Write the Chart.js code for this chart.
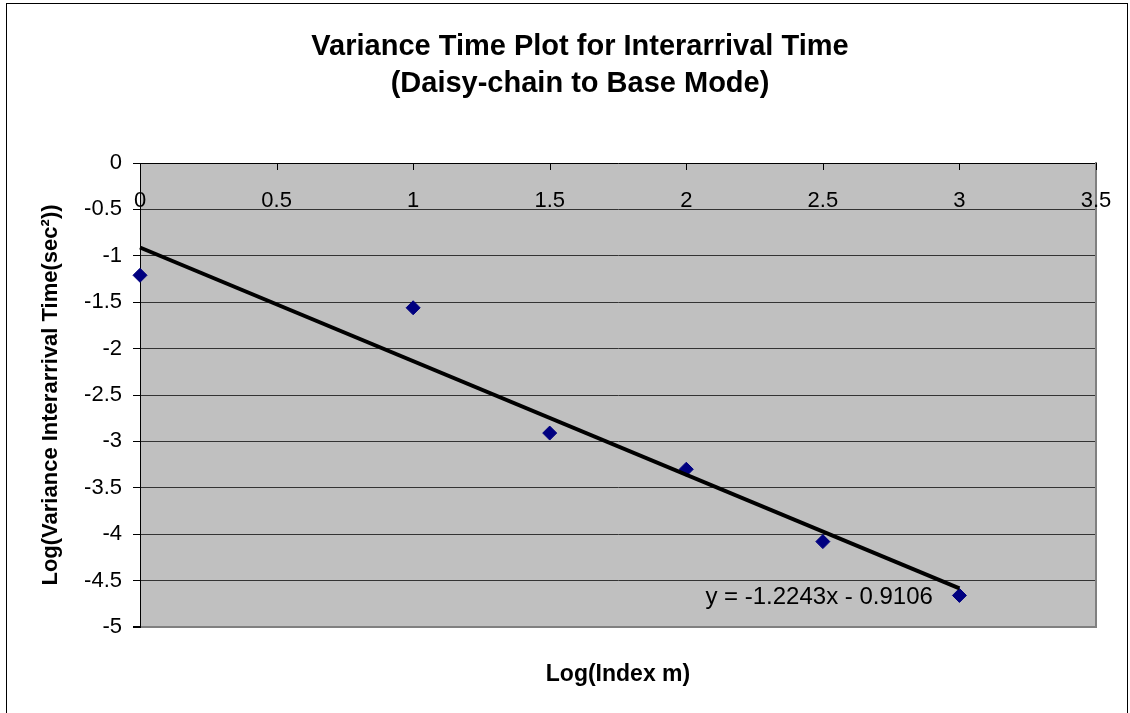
<!DOCTYPE html>
<html>
<head>
<meta charset="utf-8">
<title>Variance Time Plot for Interarrival Time</title>
<script src="https://cdn.jsdelivr.net/npm/chart.js@4.4.1/dist/chart.umd.min.js"></script>
<style>
  html, body { margin: 0; padding: 0; background: #fff; overflow: hidden; }
  #frame {
    position: absolute; left: 6px; top: 3px; width: 1120px; height: 760px;
    border: 1px solid #000;
  }
  #chart { position: absolute; left: 0; top: 0; }
</style>
</head>
<body>
<div id="frame"></div>
<canvas id="chart" width="1130" height="713"></canvas>
<script>
// values
const logIndex = [0, 1, 1.5, 2, 2.5, 3];
const logVariance = [-1.21, -1.56, -2.91, -3.30, -4.08, -4.66];

// linear trendline shown on the chart, y = -1.2243x - 0.9106
const trendX = [0, 3];
const trendY = [-0.9106, -4.5835];
const trendLabel = 'y = -1.2243x - 0.9106';
const trendLabelAt = { x: 2.07, y: -4.68 };

const titleLines = ['Variance Time Plot for Interarrival Time', '(Daisy-chain to Base Mode)'];
const xTitle = 'Log(Index m)';
const yTitle = 'Log(Variance Interarrival Time(sec\u00B2))';

const FONT = '"Liberation Sans", Arial, sans-serif';

Chart.defaults.color = '#000';
Chart.defaults.font.family = FONT;

// gray plot background, x labels under the zero line, trendline equation
const plotDecor = {
  id: 'plotDecor',
  beforeDraw(chart) {
    const { ctx, chartArea: a } = chart;
    ctx.save();
    ctx.fillStyle = '#c0c0c0';
    ctx.fillRect(a.left, a.top, a.right - a.left, a.bottom - a.top);
    ctx.restore();
  },
  afterDraw(chart) {
    const { ctx, chartArea: a, scales: { x, y } } = chart;
    ctx.save();
    ctx.strokeStyle = '#000';
    ctx.lineWidth = 1;
    x.ticks.forEach(t => {
      const px = Math.round(x.getPixelForValue(t.value)) + 0.5;
      ctx.beginPath();
      ctx.moveTo(px, a.top);
      ctx.lineTo(px, a.top + 7);
      ctx.stroke();
    });
    ctx.fillStyle = '#000';
    ctx.font = '22px ' + FONT;
    ctx.textAlign = 'center';
    ctx.textBaseline = 'middle';
    x.ticks.forEach(t => {
      ctx.fillText(String(t.value), x.getPixelForValue(t.value), a.top + 38);
    });
    ctx.font = '24px ' + FONT;
    ctx.textAlign = 'left';
    ctx.fillText(trendLabel, x.getPixelForValue(trendLabelAt.x), y.getPixelForValue(trendLabelAt.y));
    ctx.restore();
  }
};

const points = logIndex.map((v, i) => ({ x: v, y: logVariance[i] }));
const trend = trendX.map((v, i) => ({ x: v, y: trendY[i] }));

new Chart(document.getElementById('chart'), {
  type: 'scatter',
  data: {
    datasets: [
      {
        label: 'Variance',
        data: points,
        pointStyle: 'rectRot',
        pointRadius: 7,
        pointHoverRadius: 7,
        backgroundColor: '#000080',
        borderColor: '#000080',
        borderWidth: 1,
        clip: false,
        order: 1
      },
      {
        label: 'Linear trend',
        data: trend,
        showLine: true,
        borderColor: '#000',
        borderWidth: 4,
        pointRadius: 0,
        clip: false,
        order: 0
      }
    ]
  },
  options: {
    responsive: false,
    animation: false,
    layout: { padding: { left: 30, right: 0, top: 0, bottom: 0 } },
    plugins: {
      legend: { display: false },
      tooltip: { enabled: false },
      title: {
        display: true,
        text: titleLines,
        color: '#000',
        font: { size: 29, weight: 'bold', lineHeight: 37 / 29 },
        padding: { top: 28.5, bottom: 60.5 }
      }
    },
    scales: {
      x: {
        type: 'linear',
        position: 'bottom',
        min: 0,
        max: 3.5,
        ticks: { stepSize: 0.5, display: false },
        grid: { display: false },
        border: { display: false },
        title: {
          display: true,
          text: xTitle,
          font: { size: 23, weight: 'bold' },
          padding: { top: 0, bottom: 25 }
        },
        afterFit(scale) { scale.height = 86; }
      },
      y: {
        type: 'linear',
        position: 'left',
        min: -5,
        max: 0,
        ticks: {
          stepSize: 0.5,
          autoSkip: false,
          padding: 11,
          font: { size: 22 },
          callback: v => String(v)
        },
        grid: {
          color: c => c.tick.value === 0 ? '#000' : (c.tick.value === -5 ? '#808080' : '#333'),
          lineWidth: c => c.tick.value === -5 ? 2 : 1,
          tickColor: '#000',
          tickLength: 7
        },
        border: { display: true, color: '#000', width: 1 },
        title: {
          display: true,
          text: yTitle,
          font: { size: 22, weight: 'bold' },
          padding: { top: 8, bottom: 0 }
        },
        afterFit(scale) { scale.width = 110; }
      },
      yRight: {
        type: 'linear',
        position: 'right',
        min: -5,
        max: 0,
        ticks: { display: false },
        grid: { display: false },
        border: { display: true, color: '#808080', width: 2 },
        afterFit(scale) { scale.width = 34; }
      }
    }
  },
  plugins: [plotDecor]
});
</script>
</body>
</html>
